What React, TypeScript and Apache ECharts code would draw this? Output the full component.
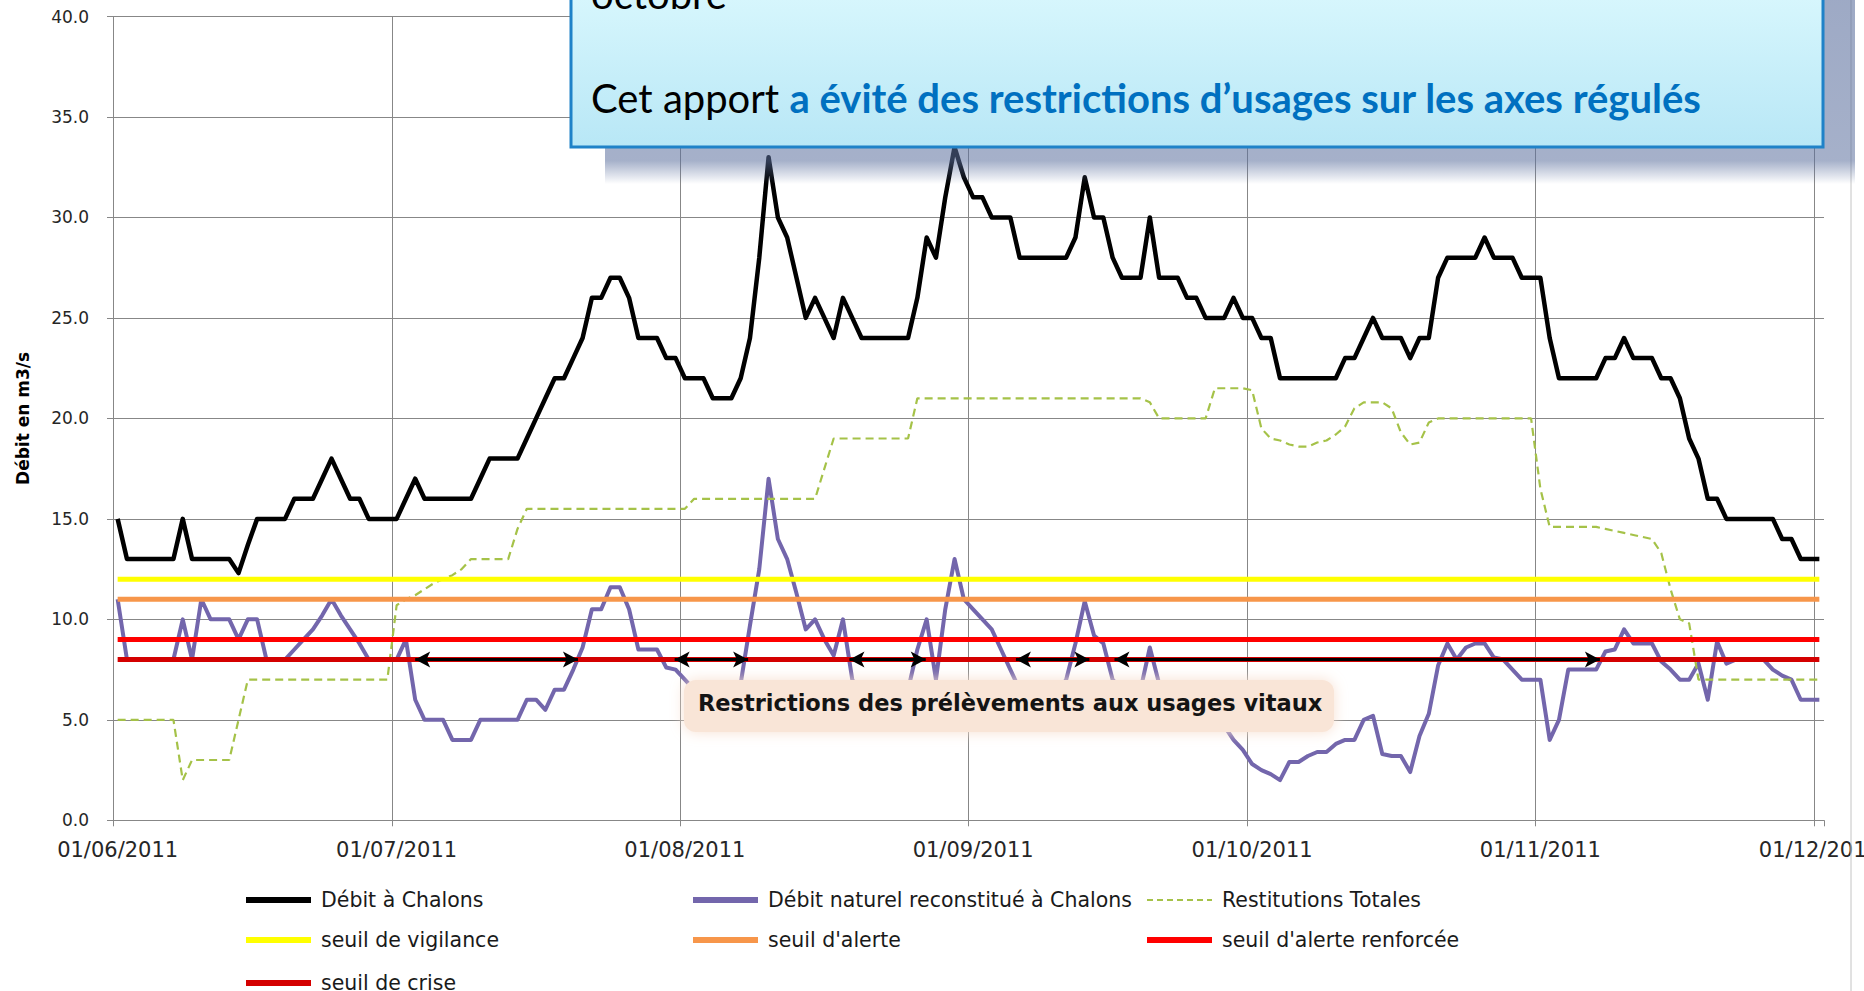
import React, { useEffect, useRef } from "react";
import * as echarts from "echarts";

// ---------- categories (one per day, 01/06/2011 .. 01/12/2011) ----------
const monthCodes = ["06", "07", "08", "09", "10", "11"];
const monthLengths = [30, 31, 31, 30, 31, 30];
const categories: string[] = [];
monthCodes.forEach((m, i) => {
  for (let d = 1; d <= monthLengths[i]; d++) {
    categories.push(`${String(d).padStart(2, "0")}/${m}/2011`);
  }
});
categories.push("01/12/2011");

// ---------- series values (m3/s), one per day ----------
const debitChalons = [
  15, 13, 13, 13, 13, 13, 13, 15, 13, 13,
  13, 13, 13, 12.3, 13.7, 15, 15, 15, 15, 16,
  16, 16, 17, 18, 17, 16, 16, 15, 15, 15,
  15, 16, 17, 16, 16, 16, 16, 16, 16, 17,
  18, 18, 18, 18, 19, 20, 21, 22, 22, 23,
  24, 26, 26, 27, 27, 26, 24, 24, 24, 23,
  23, 22, 22, 22, 21, 21, 21, 22, 24, 28,
  33, 30, 29, 27, 25, 26, 25, 24, 26, 25,
  24, 24, 24, 24, 24, 24, 26, 29, 28, 31,
  33.5, 32, 31, 31, 30, 30, 30, 28, 28, 28,
  28, 28, 28, 29, 32, 30, 30, 28, 27, 27,
  27, 30, 27, 27, 27, 26, 26, 25, 25, 25,
  26, 25, 25, 24, 24, 22, 22, 22, 22, 22,
  22, 22, 23, 23, 24, 25, 24, 24, 24, 23,
  24, 24, 27, 28, 28, 28, 28, 29, 28, 28,
  28, 27, 27, 27, 24, 22, 22, 22, 22, 22,
  23, 23, 24, 23, 23, 23, 22, 22, 21, 19,
  18, 16, 16, 15, 15, 15, 15, 15, 15, 14,
  14, 13, 13, 13,
];

const debitNaturel = [
  11, 8, 8, 8, 8, 8, 8, 10, 8, 11,
  10, 10, 10, 9, 10, 10, 8, 8, 8, 8.5,
  9, 9.5, 10.2, 11, 10.2, 9.5, 8.8, 8, 8, 8,
  8, 9, 6, 5, 5, 5, 4, 4, 4, 5,
  5, 5, 5, 5, 6, 6, 5.5, 6.5, 6.5, 7.5,
  8.6, 10.5, 10.5, 11.6, 11.6, 10.5, 8.5, 8.5, 8.5, 7.6,
  7.5, 7, 6.5, 6.3, 6, 6, 6.3, 6.8, 9.7, 12.5,
  17, 14, 13, 11.3, 9.5, 10, 9, 8.2, 10, 7,
  6.3, 6.2, 6.2, 6.2, 6.2, 6.5, 8.5, 10, 7, 10.5,
  13, 11, 10.5, 10, 9.5, 8.5, 7.5, 6.5, 6.3, 6.3,
  6.3, 6.3, 7, 8.8, 10.9, 9.2, 8.8, 7, 6.5, 6.3,
  6.5, 8.6, 6.8, 6.3, 6, 5.8, 5.5, 5.2, 5, 4.7,
  4, 3.5, 2.8, 2.5, 2.3, 2, 2.9, 2.9, 3.2, 3.4,
  3.4, 3.8, 4, 4, 5, 5.2, 3.3, 3.2, 3.2, 2.4,
  4.2, 5.3, 7.7, 8.8, 8, 8.6, 8.8, 8.8, 8.1, 8,
  7.5, 7, 7, 7, 4, 5, 7.5, 7.5, 7.5, 7.5,
  8.4, 8.5, 9.5, 8.8, 8.8, 8.8, 7.9, 7.5, 7, 7,
  7.8, 6, 8.9, 7.8, 8, 8, 8, 8, 7.5, 7.2,
  7, 6, 6, 6,
];

const restitutionsTotales = [
  5, 5, 5, 5, 5, 5, 5, 2, 3, 3,
  3, 3, 3, 5, 7, 7, 7, 7, 7, 7,
  7, 7, 7, 7, 7, 7, 7, 7, 7, 7,
  10.7, 11, 11.2, 11.5, 11.8, 12, 12.2, 12.5, 13, 13,
  13, 13, 13, 14.5, 15.5, 15.5, 15.5, 15.5, 15.5, 15.5,
  15.5, 15.5, 15.5, 15.5, 15.5, 15.5, 15.5, 15.5, 15.5, 15.5,
  15.5, 15.5, 16, 16, 16, 16, 16, 16, 16, 16,
  16, 16, 16, 16, 16, 16, 17.5, 19, 19, 19,
  19, 19, 19, 19, 19, 19, 21, 21, 21, 21,
  21, 21, 21, 21, 21, 21, 21, 21, 21, 21,
  21, 21, 21, 21, 21, 21, 21, 21, 21, 21,
  21, 20.8, 20, 20, 20, 20, 20, 20, 21.5, 21.5,
  21.5, 21.5, 21.4, 19.5, 19, 18.9, 18.7, 18.6, 18.6, 18.8,
  18.9, 19.2, 19.6, 20.5, 20.8, 20.8, 20.8, 20.5, 19.3, 18.7,
  18.8, 19.8, 20, 20, 20, 20, 20, 20, 20, 20,
  20, 20, 20, 16.5, 14.6, 14.6, 14.6, 14.6, 14.6, 14.6,
  14.5, 14.4, 14.3, 14.2, 14.1, 14, 13.3, 11.5, 10, 9.8,
  7, 7, 7, 7, 7, 7, 7, 7, 7, 7,
  7, 7, 7, 7,
];

// ---------- thresholds ----------
const thresholdNames = [
  "seuil de vigilance",
  "seuil d'alerte",
  "seuil d'alerte renforcée",
  "seuil de crise",
];
const thresholdValues = [12, 11, 9, 8];

// ---------- restriction periods (in days from 01/06, double arrows) ----------
const restrictionSpans: [number, number][] = [
  [32.5, 50],
  [60.4, 68.3],
  [79.2, 87.4],
  [97.1, 105],
  [107.7, 159.9],
];
const restrictionLevel = 8;

// ---------- y axis ----------
const yMin = 0;
const yMax = 40;
const yStep = 5;

const S_DEBIT = "Débit à Chalons";
const S_NATUREL = "Débit naturel reconstitué à Chalons";
const S_RESTIT = "Restitutions Totales";

// ---------- styles ----------
const FONT = "DejaVu Sans";
const GRID_COLOR = "#878787";
const thresholdColors = ["#ffff00", "#f7964a", "#ff0000", "#d40000"];
const seriesColors = ["#000000", "#7366ac", "#a5c248"];

const isMonthStart = (_i: number, v: string) => v.startsWith("01/");

const dashIcon =
  "path://M0 0h6v2h-6zM10 0h6v2h-6zM20 0h6v2h-6zM30 0h6v2h-6zM40 0h6v2h-6zM50 0h6v2h-6zM60 0h5v2h-5z";

function buildOption(): any {
  const threshSeries = thresholdNames.map((name, i) => ({
    name,
    type: "line",
    data: categories.map(() => thresholdValues[i]),
    symbol: "none",
    silent: true,
    lineStyle: { color: thresholdColors[i], width: 5 },
    itemStyle: { color: thresholdColors[i] },
    z: 4,
  }));

  const legendSlots = [
    { name: S_DEBIT, left: 246, cy: 900, h: 6 },
    { name: S_NATUREL, left: 693, cy: 900, h: 6 },
    { name: S_RESTIT, left: 1147, cy: 900, h: 3, icon: dashIcon },
    { name: thresholdNames[0], left: 246, cy: 940, h: 6 },
    { name: thresholdNames[1], left: 693, cy: 940, h: 6 },
    { name: thresholdNames[2], left: 1147, cy: 940, h: 6 },
    { name: thresholdNames[3], left: 246, cy: 983, h: 6 },
  ];

  return {
    animation: false,
    backgroundColor: "#ffffff",
    grid: {
      left: 113,
      right: 40,
      top: 16.5,
      bottom: 170.7,
      containLabel: false,
      outerBoundsMode: "none",
    },
    legend: legendSlots.map((s) => ({
      data: [{ name: s.name, icon: s.icon || "rect" }],
      left: s.left,
      top: s.cy - 11,
      padding: 0,
      itemWidth: 65,
      itemHeight: s.h,
      selectedMode: false,
      itemStyle: { borderWidth: 0 },
      textStyle: {
        fontFamily: FONT,
        fontSize: 20.5,
        color: "#1a1a1a",
        lineHeight: 22,
        padding: [0, 0, 0, 5],
      },
    })),
    xAxis: [
      {
        type: "category",
        data: categories,
        boundaryGap: true,
        axisLine: { show: true, lineStyle: { color: GRID_COLOR, width: 1 } },
        axisTick: { show: true, interval: isMonthStart, length: 6, lineStyle: { color: GRID_COLOR } },
        axisLabel: {
          interval: isMonthStart,
          margin: 19,
          fontFamily: FONT,
          fontSize: 21,
          color: "#262626",
        },
        splitLine: {
          show: true,
          interval: isMonthStart,
          showMaxLine: false,
          lineStyle: { color: GRID_COLOR, width: 1 },
        },
      },
      { type: "value", min: 0, max: categories.length, show: false },
    ],
    yAxis: {
      type: "value",
      min: yMin,
      max: yMax,
      interval: yStep,
      name: "Débit en m3/s",
      nameLocation: "middle",
      nameRotate: 90,
      nameGap: 82,
      nameTextStyle: { fontFamily: FONT, fontWeight: "bold", fontSize: 17, color: "#000" },
      axisLine: { show: true, lineStyle: { color: GRID_COLOR, width: 1 } },
      axisTick: { show: true, length: 6, lineStyle: { color: GRID_COLOR } },
      axisLabel: {
        margin: 24,
        fontFamily: FONT,
        fontSize: 17,
        color: "#262626",
        formatter: (v: number) => v.toFixed(1),
      },
      splitLine: { show: true, lineStyle: { color: GRID_COLOR, width: 1 } },
    },
    series: [
      {
        name: S_DEBIT,
        type: "line",
        data: debitChalons,
        symbol: "none",
        silent: true,
        lineStyle: { color: seriesColors[0], width: 4.5, join: "round" },
        itemStyle: { color: seriesColors[0] },
        z: 3,
      },
      {
        name: S_NATUREL,
        type: "line",
        data: debitNaturel,
        symbol: "none",
        silent: true,
        lineStyle: { color: seriesColors[1], width: 4, join: "round" },
        itemStyle: { color: seriesColors[1] },
        z: 3,
      },
      {
        name: S_RESTIT,
        type: "line",
        data: restitutionsTotales,
        symbol: "none",
        silent: true,
        lineStyle: { color: seriesColors[2], width: 2.2, type: [8, 5] },
        itemStyle: { color: seriesColors[2] },
        z: 3,
      },
      ...threshSeries,
      {
        name: "restrictions",
        type: "line",
        xAxisIndex: 1,
        data: [],
        silent: true,
        z: 6,
        markLine: {
          silent: true,
          symbol: ["arrow", "arrow"],
          symbolSize: [12, 15],
          label: { show: false },
          lineStyle: { color: "#000", width: 3, type: "solid" },
          emphasis: { disabled: true },
          data: restrictionSpans.map(([a, b]) => [
            { coord: [a, restrictionLevel] },
            { coord: [b, restrictionLevel] },
          ]),
        },
      },
    ],
    graphic: [
      {
        type: "line",
        z: 90,
        silent: true,
        shape: { x1: 1851, y1: 0, x2: 1851, y2: 991 },
        style: { stroke: "#c4c4c4", lineWidth: 1 },
      },
      {
        type: "rect",
        z: 100,
        silent: true,
        shape: { x: 605, y: -10, width: 1250, height: 194 },
        style: {
          fill: {
            type: "linear",
            x: 0, y: 0, x2: 0, y2: 1,
            colorStops: [
              { offset: 0, color: "rgba(92,112,158,0.6)" },
              { offset: 0.88, color: "rgba(92,112,158,0.55)" },
              { offset: 1, color: "rgba(92,112,158,0)" },
            ],
          },
        },
      },
      {
        type: "rect",
        z: 101,
        silent: true,
        shape: { x: 571, y: -10, width: 1252, height: 157 },
        style: {
          fill: {
            type: "linear",
            x: 0, y: 0, x2: 0, y2: 1,
            colorStops: [
              { offset: 0, color: "#d8f7fd" },
              { offset: 1, color: "#b8e7f6" },
            ],
          },
          stroke: "#1f82c8",
          lineWidth: 3,
        },
      },
      {
        type: "text",
        z: 102,
        silent: true,
        x: 591,
        y: -6,
        style: {
          text: "octobre",
          fontFamily: "Lato",
          fontSize: 40,
          fill: "#000",
          verticalAlign: "middle",
        },
      },
      {
        type: "text",
        z: 102,
        silent: true,
        x: 591,
        y: 98,
        style: {
          text: "{a|Cet apport }{b|a évité des restrictions d’usages sur les axes régulés}",
          verticalAlign: "middle",
          rich: {
            a: { fontFamily: "Lato", fontSize: 40, fill: "#000" },
            b: { fontFamily: "Lato", fontSize: 40, fontWeight: "bold", fill: "#0070c0" },
          },
        },
      },
      {
        type: "rect",
        z: 80,
        silent: true,
        shape: { x: 684, y: 680, width: 650, height: 52, r: 12 },
        style: {
          fill: "rgb(249,229,215)",
          shadowBlur: 14,
          shadowColor: "rgba(248,224,208,1)",
        },
      },
      {
        type: "text",
        z: 81,
        silent: true,
        x: 698,
        y: 703,
        style: {
          text: "Restrictions des prélèvements aux usages vitaux",
          fontFamily: FONT,
          fontSize: 22.5,
          fontWeight: "bold",
          fill: "#141414",
          verticalAlign: "middle",
        },
      },
    ],
  };
}

export default function App() {
  const ref = useRef<HTMLDivElement>(null);
  useEffect(() => {
    if (!ref.current) return;
    const chart = echarts.init(ref.current, null, { renderer: "svg" });
    chart.setOption(buildOption());
    return () => chart.dispose();
  }, []);
  return (
    <div
      ref={ref}
      style={{ position: "fixed", left: 0, top: 0, width: 1864, height: 991, background: "#fff" }}
    />
  );
}
